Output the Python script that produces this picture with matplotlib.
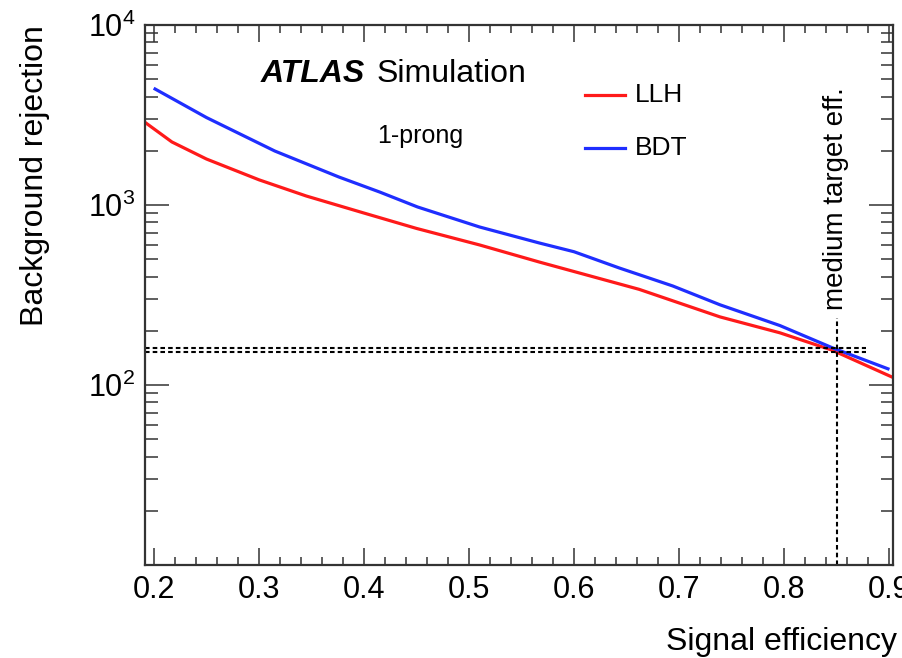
import matplotlib
matplotlib.use('Agg')
import matplotlib.pyplot as plt
from matplotlib.ticker import MultipleLocator, LogLocator, NullFormatter

plt.rcParams['font.family'] = ['Liberation Sans', 'DejaVu Sans']
plt.rcParams['mathtext.default'] = 'regular'

# rejection curves
llh_eff = [0.191, 0.217, 0.25, 0.30, 0.345, 0.40, 0.45, 0.51, 0.567, 0.662, 0.739, 0.796, 0.846, 0.907]
llh_rej = [2890, 2240, 1800, 1380, 1122, 902, 741, 600, 482, 340, 239, 195, 156, 108]

bdt_eff = [0.201, 0.25, 0.315, 0.376, 0.415, 0.451, 0.51, 0.567, 0.60, 0.643, 0.694, 0.739, 0.796, 0.846, 0.899]
bdt_rej = [4410, 3060, 1995, 1431, 1180, 975, 755, 615, 550, 447, 355, 279, 214, 161, 123]

# working point
target_eff = 0.85
target_rej = [161, 152]   # BDT, LLH
hline_end = 0.878
vline_top = 235

fig = plt.figure(figsize=(9.02, 6.58), dpi=100)
ax = fig.add_axes([145 / 902, 1 - 565 / 658, 748 / 902, 540 / 658])

ax.plot(llh_eff, llh_rej, color='#ff1a1a', lw=2.3, solid_joinstyle='round')
ax.plot(bdt_eff, bdt_rej, color='#1f2eff', lw=2.3, solid_joinstyle='round')

# dotted reference lines
for r in target_rej:
    ax.plot([0.1914, hline_end], [r, r], color='black', lw=1.5, ls=(0, (2.2, 1.5)))
ax.plot([target_eff, target_eff], [10, vline_top], color='black', lw=1.5, ls=(0, (2.2, 1.5)))

ax.set_yscale('log')
ax.set_xlim(0.1914, 0.9038)
ax.set_ylim(10, 1e4)

ax.xaxis.set_major_locator(MultipleLocator(0.1))
ax.xaxis.set_minor_locator(MultipleLocator(0.02))
ax.set_yticks([1e2, 1e3, 1e4], labels=[r'$10^{2}$', r'$10^{3}$', r'$10^{4}$'])
ax.yaxis.set_minor_locator(LogLocator(base=10, subs=range(2, 10)))
ax.yaxis.set_minor_formatter(NullFormatter())

ax.tick_params(axis='both', which='both', direction='in', top=True, right=True,
               color='#333333')
ax.tick_params(axis='x', which='major', length=12, width=1.1, pad=7, labelsize=22)
ax.tick_params(axis='x', which='minor', length=6, width=1.1)
ax.tick_params(axis='y', which='major', length=17, width=1.1, pad=7, labelsize=22)
ax.tick_params(axis='y', which='minor', length=9, width=1.1)
for s in ax.spines.values():
    s.set_linewidth(1.6)
    s.set_color('#333333')

# labels
fig.text(0.995, 1 - 650 / 658, 'Signal efficiency', ha='right', va='baseline', fontsize=23)
fig.text(35 / 902, 1 - 25 / 658, 'Background rejection', ha='center', va='top',
         rotation=90, fontsize=23)

ax.text(0.154, 0.894, 'ATLAS', transform=ax.transAxes, fontsize=23,
        fontweight='bold', fontstyle='italic', va='baseline')
ax.text(0.310, 0.894, 'Simulation', transform=ax.transAxes, fontsize=23, va='baseline')
ax.text(0.310, 0.781, '1-prong', transform=ax.transAxes, fontsize=18, va='baseline')

# legend drawn by hand like the ROOT one
ax.plot([0.588, 0.642], [0.870, 0.870], transform=ax.transAxes, color='#ff1a1a', lw=2.3)
ax.text(0.655, 0.870, 'LLH', transform=ax.transAxes, fontsize=19, va='center')
ax.plot([0.588, 0.642], [0.772, 0.772], transform=ax.transAxes, color='#1f2eff', lw=2.3)
ax.text(0.655, 0.772, 'BDT', transform=ax.transAxes, fontsize=19, va='center')

ax.text(0.924, 0.472, 'medium target eff.', transform=ax.transAxes, fontsize=20,
        rotation=90, ha='center', va='bottom')

fig.savefig('out.png', dpi=100)
